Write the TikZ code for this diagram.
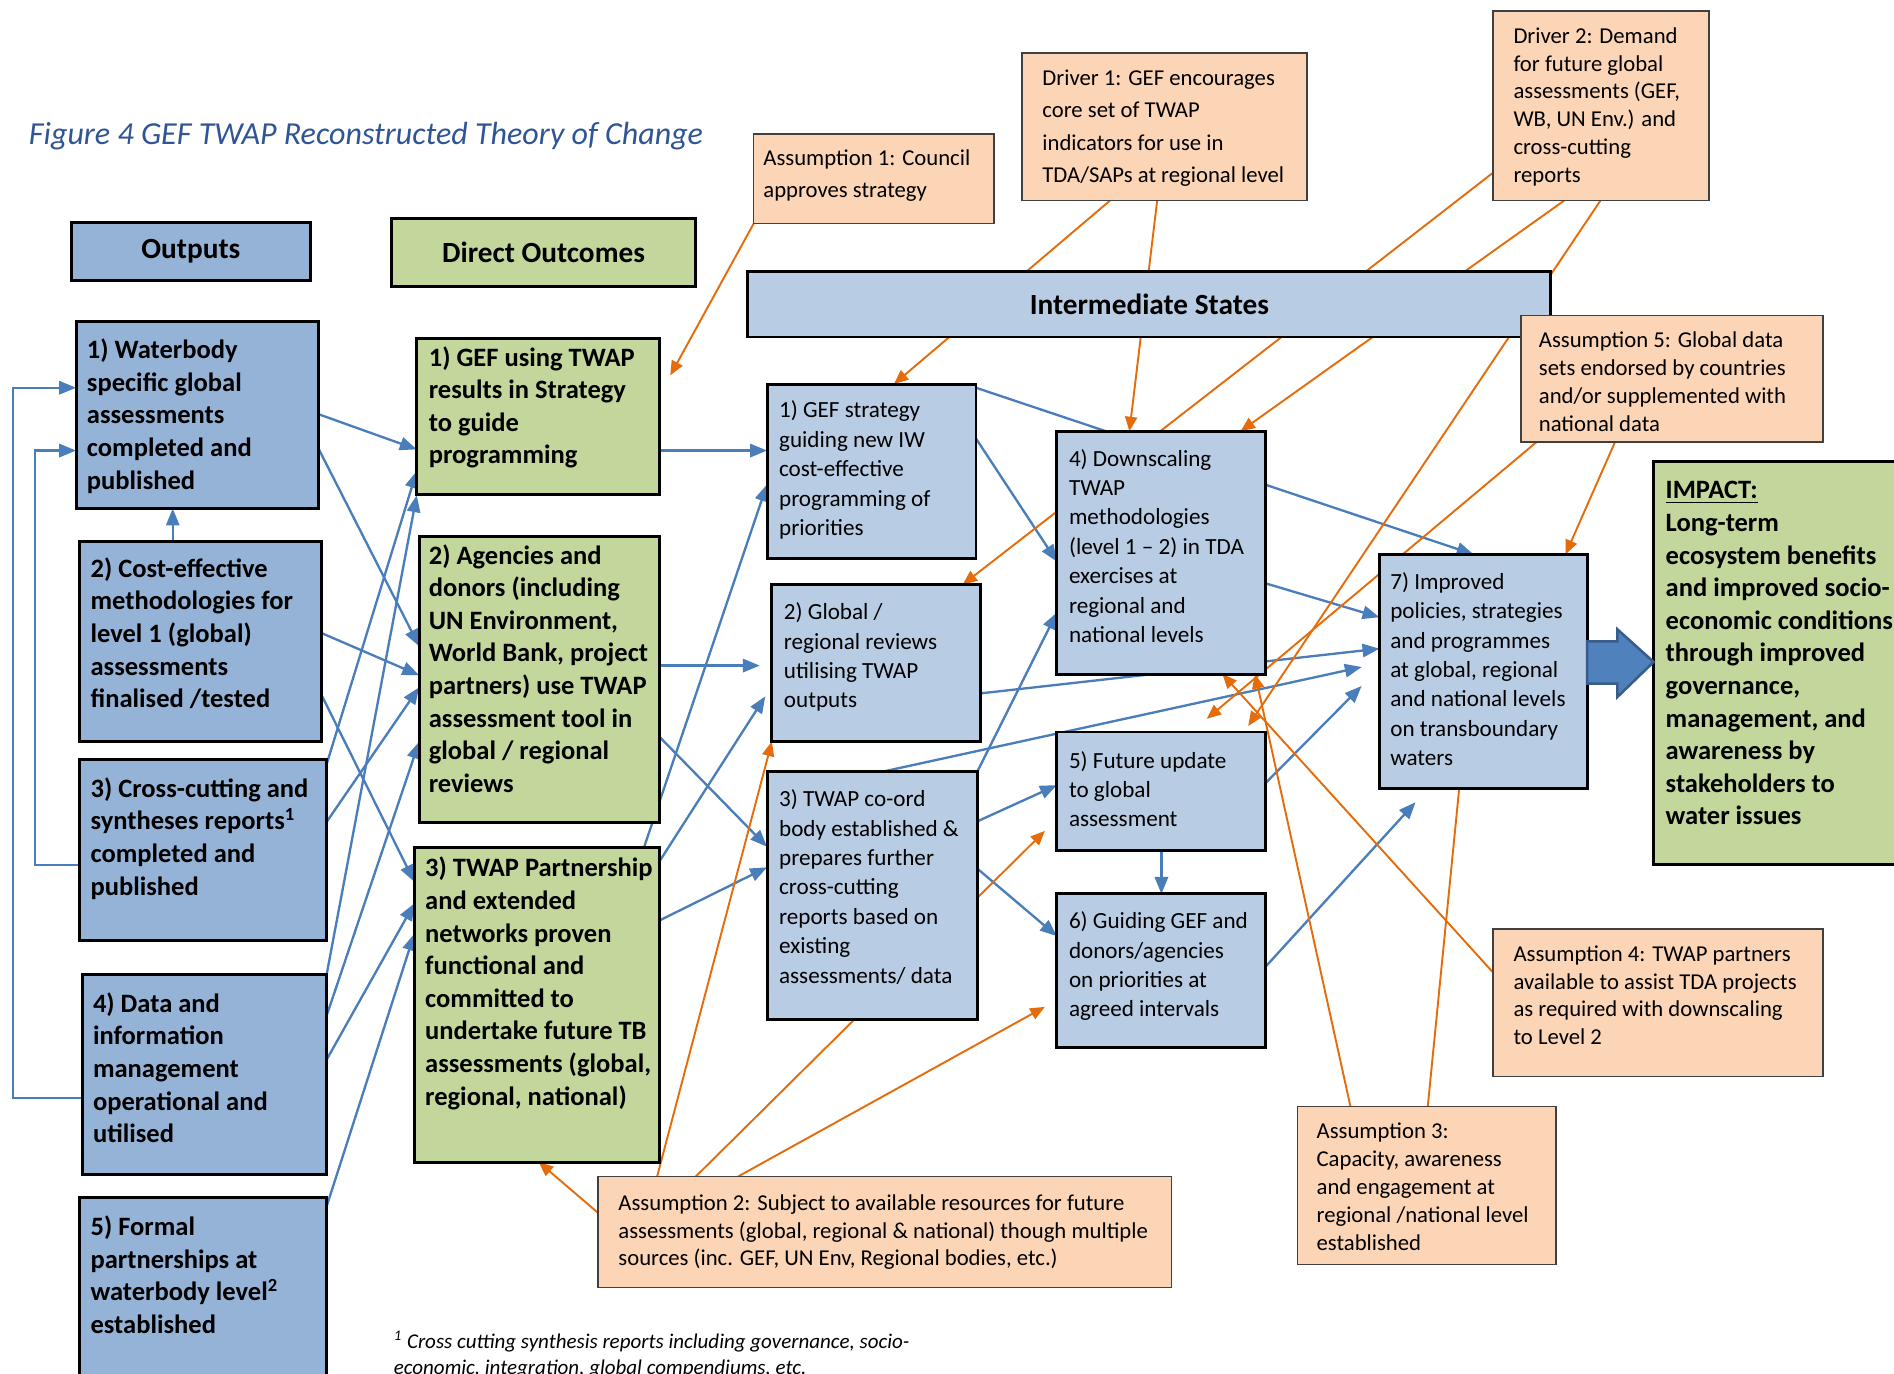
\documentclass[tikz,border=0pt]{standalone}
\usepackage{fontspec}
\setmainfont{Carlito}
\usetikzlibrary{arrows.meta,backgrounds}

\definecolor{outfill}{RGB}{149,179,215}
\definecolor{dofill}{RGB}{195,214,155}
\definecolor{isfill}{RGB}{184,204,228}
\definecolor{asfill}{RGB}{251,213,181}
\definecolor{blcol}{RGB}{74,126,187}
\definecolor{orcol}{RGB}{228,108,10}
\definecolor{titleblue}{RGB}{47,85,151}
\definecolor{bigfill}{RGB}{79,129,189}
\definecolor{bigdraw}{RGB}{56,93,138}

\newlength{\unitpx}
\setlength{\unitpx}{0.02cm}
% box text: width, height, left pad, first baseline, lines
\newcommand{\bx}[5]{\parbox[c][#2\unitpx][t]{#1\unitpx}{\vspace*{\dimexpr#4\unitpx+2.5\unitpx-0.7\baselineskip\relax}\hspace*{#3\unitpx}\begin{tabular}[t]{@{}l@{}}#5\end{tabular}}}

\begin{document}
\begin{tikzpicture}[x=0.02cm,y=-0.02cm,
  every node/.style={inner sep=0pt,outer sep=0pt},
  outbox/.style={draw,line width=1.4pt,fill=outfill,anchor=north west,font=\fontsize{12.5}{15.36}\selectfont\bfseries},
  dobox/.style={outbox,fill=dofill},
  isbox/.style={draw,line width=1.4pt,fill=isfill,anchor=north west,font=\fontsize{10.9}{13.83}\selectfont},
  asbox/.style={draw=black!75,line width=0.7pt,fill=asfill,anchor=north west,font=\fontsize{10.7}{13.09}\selectfont},
  hdrbox/.style={draw,line width=1.4pt,font=\fontsize{13.8}{16}\selectfont\bfseries},
  blarrow/.style={draw=blcol,line width=1.1pt,-{Triangle[length=0.28cm,width=0.22cm]}},
  orarrow/.style={draw=orcol,line width=0.9pt,-{Triangle[length=0.24cm,width=0.2cm]}},
  orplain/.style={draw=orcol,line width=0.9pt}]

  \useasboundingbox (0,0) rectangle (1568,1137);

  \node[anchor=west,font=\fontsize{15.1}{18}\selectfont\itshape,text=titleblue] (title) at (24,113) {Figure 4 GEF TWAP Reconstructed Theory of Change};

  \node[hdrbox,fill=outfill,minimum width=3.96cm,minimum height=0.96cm] (hout) at (158,208) {Outputs};
  \node[hdrbox,fill=dofill,minimum width=5.04cm,minimum height=1.12cm] (hdo) at (450,209) {Direct Outcomes};
  \node[hdrbox,fill=isfill,minimum width=13.3cm,minimum height=1.08cm] (his) at (951.5,252) {Intermediate States};

  \node[outbox] (o1) at (63,266) {\bx{201}{155}{9}{28.5}{1) Waterbody\\specific global\\assessments\\completed and\\published}};
  \node[outbox] (o2) at (66,448) {\bx{200}{166}{9}{27.5}{2) Cost-effective\\methodologies for\\level 1 (global)\\assessments\\finalised /tested}};
  \node[outbox] (o3) at (66,629) {\bx{204}{150}{9}{28.5}{3) Cross-cutting and\\syntheses reports\textsuperscript{1}\\completed and\\published}};
  \node[outbox] (o4) at (68,807) {\bx{202}{165}{9}{28.5}{4) Data and\\information\\management\\operational and\\utilised}};
  \node[outbox] (o5) at (66,991) {\bx{204}{174}{9}{29.5}{5) Formal\\partnerships at\\waterbody level\textsuperscript{2}\\established}};

  \node[dobox] (d1) at (345,280) {\bx{201}{129}{10}{20.5}{1) GEF using TWAP\\results in Strategy\\to guide\\programming}};
  \node[dobox] (d2) at (347,444) {\bx{199}{237}{8}{20.5}{2) Agencies and\\donors (including\\UN Environment,\\World Bank, project\\partners) use TWAP\\assessment tool in\\global / regional\\reviews}};
  \node[dobox] (d3) at (343,702) {\bx{203}{260}{9}{21.5}{3) TWAP Partnership\\and extended\\networks proven\\functional and\\committed to\\undertake future TB\\assessments (global,\\regional, national)}};

  \node[isbox] (i1) at (635,318) {\bx{173}{144}{10}{25.5}{1) GEF strategy\\guiding new IW\\cost-effective\\programming of\\priorities}};
  \node[isbox] (i2) at (639,484) {\bx{173}{130}{10}{26.5}{2) Global /\\regional reviews\\utilising TWAP\\outputs}};
  \node[isbox] (i3) at (635,639) {\bx{174}{205}{10}{26.5}{3) TWAP co-ord\\body established \&\\prepares further\\cross-cutting\\reports based on\\existing\\assessments/ data}};
  \node[isbox] (i4) at (875,357) {\bx{173}{201}{10}{26.5}{4) Downscaling\\TWAP\\methodologies\\(level 1 -- 2) in TDA\\exercises at\\regional and\\national levels}};
  \node[isbox] (i5) at (875,606) {\bx{173}{98}{10}{27.5}{5) Future update\\to global\\assessment}};
  \node[isbox] (i6) at (875,740) {\bx{173}{127}{10}{26.5}{6) Guiding GEF and\\donors/agencies\\on priorities at\\agreed intervals}};
  \node[isbox] (i7) at (1142,459) {\bx{172}{194}{9}{26.5}{7) Improved\\policies, strategies\\and programmes\\at global, regional\\and national levels\\on transboundary\\waters}};

  \node[dobox] (imp) at (1369,382) {\bx{230}{334}{10}{28.5}{\underline{IMPACT:}\\Long-term\\ecosystem benefits\\and improved socio-\\economic conditions\\through improved\\governance,\\management, and\\awareness by\\stakeholders to\\water issues}};

  \node[asbox,font=\fontsize{10.7}{15.36}\selectfont] (a1) at (624,111) {\bx{199}{74}{8}{23.4}{Assumption 1: Council\\approves strategy}};
  \node[asbox,font=\fontsize{10.7}{15.19}\selectfont] (dr1) at (846,44) {\bx{236}{122}{17}{24.4}{Driver 1: GEF encourages\\core set of TWAP\\indicators for use in\\TDA/SAPs at regional level}};
  \node[asbox] (dr2) at (1236,9) {\bx{179}{157}{17}{24.4}{Driver 2: Demand\\for future global\\assessments (GEF,\\WB, UN Env.) and\\cross-cutting\\reports}};
  \node[asbox] (a5) at (1259,261) {\bx{250}{105}{15}{24.4}{Assumption 5: Global data\\sets endorsed by countries\\and/or supplemented with\\national data}};
  \node[asbox] (a4) at (1236,769) {\bx{273}{122}{17}{24.4}{Assumption 4: TWAP partners\\available to assist TDA projects\\as required with downscaling\\to Level 2}};
  \node[asbox] (a3) at (1074,916) {\bx{214}{131}{16}{24.4}{Assumption 3:\\Capacity, awareness\\and engagement at\\regional /national level\\established}};
  \node[asbox] (a2) at (495,974) {\bx{475}{92}{17}{25.4}{Assumption 2: Subject to available resources for future\\assessments (global, regional \& national) though multiple\\sources (inc. GEF, UN Env, Regional bodies, etc.)}};

  \node[anchor=north west,font=\fontsize{9.9}{12.52}\selectfont\itshape] (fnote) at (326,1090) {\bx{520}{60}{0}{23.5}{\textsuperscript{1} Cross cutting synthesis reports including governance, socio-\\economic, integration, global compendiums, etc.}};

  \draw[fill=bigfill,draw=bigdraw,line width=1.2pt] (i7.east |- 0,531) -- ++(25,0) -- ++(0,-10) -- (imp.west |- 0,548) -- (1339,577) -- ++(0,-11) -- (i7.east |- 0,566) -- cycle;

  \begin{scope}[on background layer]
  \fill[white] (0,0) rectangle (1568,1137);

  \draw[blarrow] (o3.west |- 0,716) -- ++(-37,0) |- (o1.west |- 0,373);
  \draw[blarrow] (o4.west |- 0,909) -- ++(-57,0) |- (o1.west |- 0,321);
  \draw[blarrow] (o2.north -| 143,0) -- (o1.south -| 143,0);
  \draw[blarrow] (o1.east |- 0,343) -- (d1.west |- 0,372);
  \draw[blarrow] (o1.east |- 0,372) -- (d2.west |- 0,535);
  \draw[blarrow] (o2.east |- 0,524) -- (d2.west |- 0,559);
  \draw[blarrow] (o2.east |- 0,575) -- (d3.west |- 0,730);
  \draw[blarrow] (o3.east |- 0,634) -- (d1.west |- 0,390);
  \draw[blarrow] (o3.east |- 0,681) -- (d2.west |- 0,569);
  \draw[blarrow] (o4.east |- 0,809) -- (d1.west |- 0,410);
  \draw[blarrow] (o4.east |- 0,842) -- (d2.west |- 0,614);
  \draw[blarrow] (o4.east |- 0,878) -- (d3.west |- 0,748);
  \draw[blarrow] (o5.east |- 0,1000) -- (d3.west |- 0,773);

  \draw[blarrow] (d1.east |- 0,373) -- (i1.west |- 0,373);
  \draw[blarrow,shorten >=0.2cm] (d2.east |- 0,551) -- (i2.west |- 0,551);
  \draw[blarrow] (d2.east |- 0,610) -- (i3.west |- 0,701);
  \draw[blarrow] (d3.north -| 533,0) -- (i1.west |- 0,401);
  \draw[blarrow,shorten >=0.2cm] (d3.east |- 0,713) -- (i2.west |- 0,568);
  \draw[blarrow] (d3.east |- 0,762) -- (i3.west |- 0,718);

  \draw[blarrow] (i1.east |- 0,321) -- (i7.north -| 1220,0);
  \draw[blarrow] (i1.east |- 0,363) -- (i4.west |- 0,465);
  \draw[blarrow] (i2.east |- 0,574) -- (i7.west |- 0,537);
  \draw[blarrow,shorten >=0.3cm] (i3.north -| 730,0) -- (i7.west |- 0,549);
  \draw[blarrow] (i3.east |- 0,680) -- (i5.west |- 0,650);
  \draw[blarrow] (i3.east |- 0,719) -- (i6.west |- 0,775);
  \draw[blarrow] (i3.north east) -- (i4.west |- 0,507);
  \draw[blarrow] (i5.south) -- (i6.north);
  \draw[blarrow,shorten >=0.42cm] (i5.east |- 0,648) -- (i7.west |- 0,553);
  \draw[blarrow,shorten >=0.3cm] (i6.east |- 0,800) -- (i7.south -| 1182,0);
  \draw[blarrow] (i4.east |- 0,483) -- (i7.west |- 0,511);

  \draw[orarrow,shorten >=0.37cm] (a1.south west) -- (d1.east |- 0,327);
  \draw[orarrow] (dr1.south -| 919,0) -- (i1.north -| 740,0);
  \draw[orarrow] (dr1.south -| 958,0) -- (i4.north -| 935,0);
  \draw[orarrow] (dr2.south -| 1295,0) -- (i4.north -| 1027,0);
  \draw[orarrow] (dr2.west |- 0,143) -- (i2.north -| 797,0);
  \draw[orarrow,shorten >=0.12cm] (dr2.south -| 1325,0) -- (i5.north -| 1030,0);
  \draw[orarrow,shorten >=0.34cm] (a5.south -| 1272,0) -- (i5.north -| 986,0);
  \draw[orarrow] (a5.south -| 1337,0) -- (i7.north -| 1296,0);
  \draw[orarrow] (a4.west |- 0,805) -- (i4.south -| 1012,0);
  \draw[orarrow] (a3.north -| 1118,0) -- (i4.south -| 1039,0);
  \draw[orplain] (a3.north -| 1182,0) -- (i7.south -| 1208,0);
  \draw[orarrow] (a2.north -| 544,0) -- (i2.south west);
  \draw[orarrow,shorten >=0.28cm] (a2.north -| 576,0) -- (i5.west |- 0,678);
  \draw[orarrow,shorten >=0.23cm] (a2.north -| 611,0) -- (i6.west |- 0,828);
  \draw[orarrow] (a2.west |- 0,1004) -- (d3.south -| 446,0);
  \end{scope}

\end{tikzpicture}
\end{document}
